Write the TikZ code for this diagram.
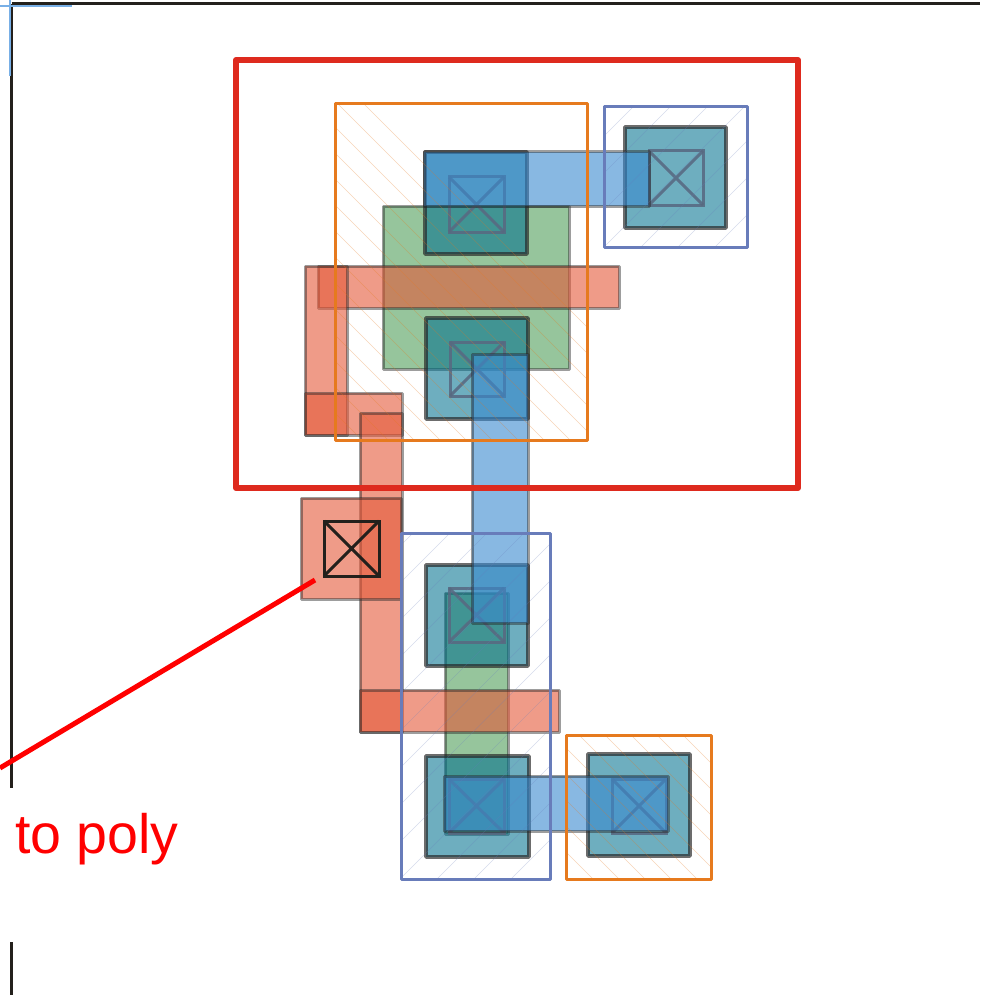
\documentclass[tikz,border=0pt]{standalone}
\usepackage{fontspec}
\setmainfont{Liberation Sans}
\definecolor{polyred}{RGB}{228,89,57}
\definecolor{metalblue}{RGB}{57,137,207}
\definecolor{activegreen}{RGB}{80,158,90}
\definecolor{diffteal}{RGB}{0,112,142}
\definecolor{wellorange}{RGB}{230,122,30}
\definecolor{wellblue}{RGB}{104,124,186}
\definecolor{tubred}{RGB}{222,42,30}
\definecolor{cutslate}{RGB}{88,104,128}
\definecolor{guideblue}{RGB}{120,175,230}
\definecolor{framedark}{RGB}{35,32,28}
\tikzset{
    layer/.style={fill opacity=0.6, draw opacity=0.45, draw=black!85, line width=3pt, line join=round},
    poly/.style={layer, fill=polyred},
    metal/.style={layer, fill=metalblue},
    active/.style={layer, fill=activegreen},
    diff/.style={layer, fill=diffteal, fill opacity=0.57, draw opacity=0.68, line width=3.8pt},
    wellp/.style={draw=wellorange, line width=3pt, line join=round},
    welln/.style={draw=wellblue, line width=3pt, line join=round},
    hatchp/.style={draw=wellorange, line width=0.5pt, opacity=0.32},
    hatchn/.style={draw=wellblue, line width=0.5pt, opacity=0.28},
    cut/.style={draw=cutslate, line width=3pt, draw opacity=0.85},
    cutpoly/.style={draw=framedark, line width=3pt},
}
% crossed contact square: style, x1, y1, x2, y2
\newcommand{\contact}[5]{
    \draw[#1] (#2,#3) rectangle (#4,#5);
    \draw[#1] (#2,#3) -- (#4,#5) (#2,#5) -- (#4,#3);
}
\begin{document}
\begin{tikzpicture}[x=1pt,y=-1pt]
    \useasboundingbox (0,0) rectangle (980,995);
    % sheet edges
    \draw[framedark, line width=3pt] (11.5,4) -- (980,4);
    \draw[framedark, line width=3pt] (11.5,4) -- (11.5,788);
    \draw[framedark, line width=3pt] (11.5,942) -- (11.5,995);
    \draw[guideblue, line width=1.5pt] (0,6) -- (72,6);
    \draw[guideblue, line width=1.5pt] (10,0) -- (10,76);

    % active
    \draw[active] (383,206) rectangle (569,369);
    \draw[active] (445,593) rectangle (508,834);
    % poly
    \draw[poly] (318,266) rectangle (619,308);
    \draw[poly] (305,266) rectangle (347,435);
    \draw[poly] (305,393) rectangle (402,435);
    \draw[poly] (360,413) rectangle (402,732);
    \draw[poly] (360,690) rectangle (559,732);
    \draw[poly] (301,498) rectangle (401,599);
    % diffusion
    \draw[diff] (625,127) rectangle (726,228);
    \draw[diff] (425,152) rectangle (527,254);
    \draw[diff] (426,318) rectangle (528,419);
    \draw[diff] (426,565) rectangle (528,666);
    \draw[diff] (426,756) rectangle (529,857);
    \draw[diff] (588,754) rectangle (690,856);
    % contacts
    \contact{cut}{649}{151}{703}{205}
    \contact{cut}{449}{177}{504}{232}
    \contact{cut}{450}{342}{504}{396}
    \contact{cut}{449}{588}{504}{642}
    \contact{cut}{449}{779}{504}{833}
    \contact{cut}{612}{779}{666}{833}
    \contact{cutpoly}{324}{521}{379}{576}
    % metal
    \draw[metal] (424,152) rectangle (649,206);
    \draw[metal] (472,354) rectangle (528,623);
    \draw[metal] (444,776) rectangle (668,831);

    % well hatching
    \begin{scope}
        \clip (335,104) rectangle (587,440);
        \foreach \c in {-104,-78,...,260} \draw[hatchp] (\c,0) -- ({\c+500},500);
    \end{scope}
    \begin{scope}
        \clip (566,735) rectangle (711,879);
        \foreach \c in {-312,-286,...,-26} \draw[hatchp] ({\c+700},700) -- ({\c+900},900);
    \end{scope}
    \begin{scope}
        \clip (604,107) rectangle (747,247);
        \foreach \c in {740,777,...,1000} \draw[hatchn] ({\c-100},100) -- ({\c-400},400);
    \end{scope}
    \begin{scope}
        \clip (401,533) rectangle (550,879);
        \foreach \c in {946,983,...,1430} \draw[hatchn] ({\c-500},500) -- ({\c-900},900);
    \end{scope}
    \draw[wellp] (335,104) rectangle (587,440);
    \draw[welln] (604,107) rectangle (747,247);
    \draw[welln] (401,533) rectangle (550,879);
    \draw[wellp] (566,735) rectangle (711,879);

    % n-well outline
    \draw[tubred, line width=6pt, line join=round] (236,60) rectangle (798,488);

    % label
    \coordinate (leadfar) at (0,768);
    \coordinate (leadpad) at (315,580);
    \draw[red, line width=5pt] (leadfar) -- (leadpad);
    \node[red, anchor=base west, inner sep=0pt, font=\fontsize{55.5}{60}\selectfont] (polylabel) at (15,853) {to poly};
\end{tikzpicture}
\end{document}
